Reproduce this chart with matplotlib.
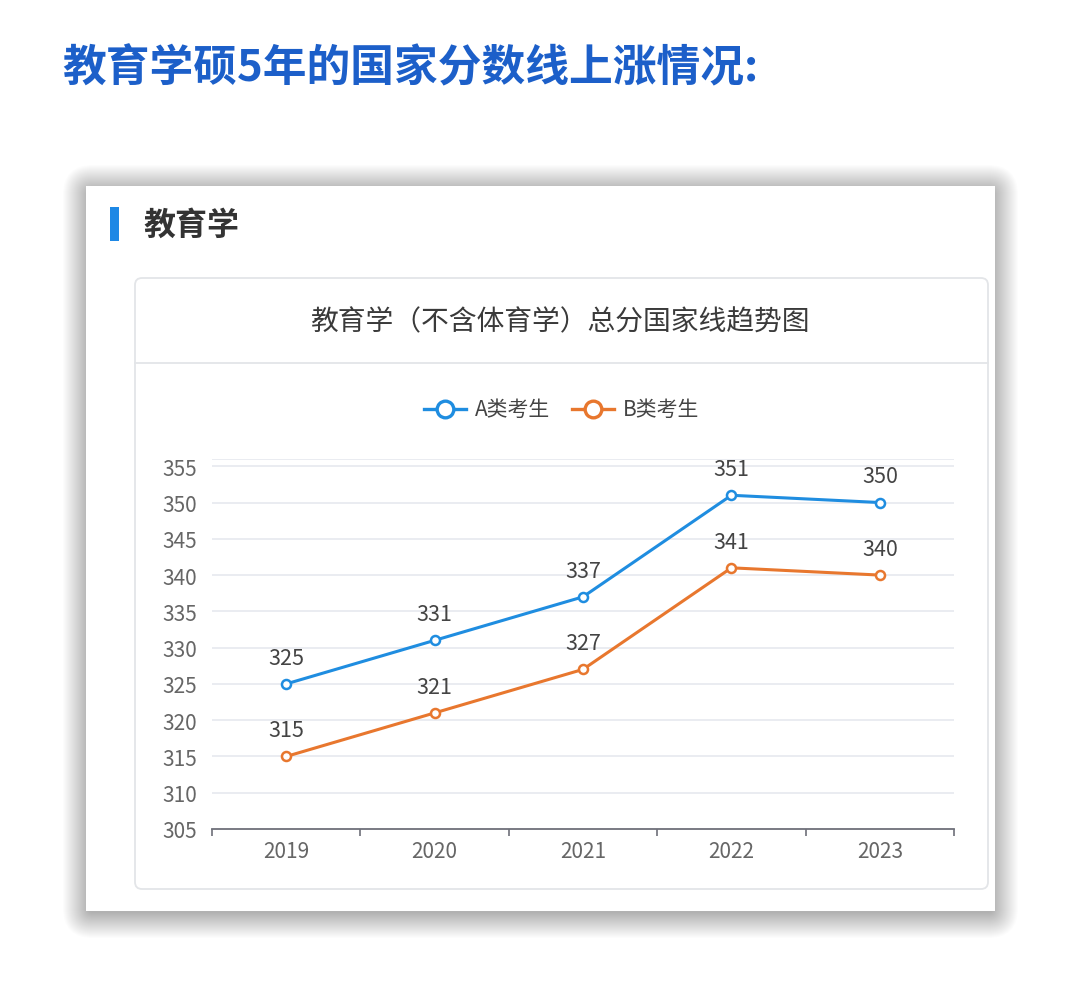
import matplotlib
matplotlib.use("Agg")
import matplotlib.pyplot as plt
from matplotlib.patches import Rectangle, FancyBboxPatch
from matplotlib.lines import Line2D

plt.rcParams['font.family'] = ['Noto Sans CJK SC', 'DejaVu Sans']

# ---- data ----
years = ["2019", "2020", "2021", "2022", "2023"]
series_a = [325, 331, 337, 351, 350]
series_b = [315, 321, 327, 341, 340]
name_a = "A类考生"
name_b = "B类考生"
y_ticks = [305, 310, 315, 320, 325, 330, 335, 340, 345, 350, 355]
page_title = "教育学硕5年的国家分数线上涨情况:"
section_title = "教育学"
chart_title = "教育学（不含体育学）总分国家线趋势图"

W, H = 1080, 995
BLUE = "#1f8de0"
ORANGE = "#e8772e"

fig = plt.figure(figsize=(W / 100, H / 100), dpi=100)
fig.patch.set_facecolor("white")

# background / decoration axes in pixel coordinates
bg = fig.add_axes([0, 0, 1, 1], zorder=0)
bg.set_xlim(0, W)
bg.set_ylim(H, 0)
bg.axis("off")

# page title
bg.text(62, 68, page_title, fontsize=31.5, fontweight="bold", color="#1c5fc9",
        ha="left", va="center")

# card shadow (soft)
cx0, cy0, cx1, cy1 = 86, 187, 995, 912
n = 26
for i in range(n, 0, -1):
    bg.add_patch(FancyBboxPatch((cx0 - i + 3, cy0 - i + 5), (cx1 - cx0) + 2 * i - 6,
                                (cy1 - cy0) + 2 * i - 4,
                                boxstyle="round,pad=0,rounding_size=%d" % (i + 4),
                                facecolor="black", edgecolor="none", alpha=0.013))
bg.add_patch(Rectangle((cx0, cy0), cx1 - cx0, cy1 - cy0, facecolor="white",
                       edgecolor="none"))

# section header
bg.add_patch(Rectangle((110, 208), 9, 34, facecolor="#1e88e5", edgecolor="none"))
bg.text(143, 226, section_title, fontsize=23, fontweight="bold", color="#333333",
        ha="left", va="center")

# inner chart box
bx0, by0, bx1, by1 = 135, 279, 988, 890
bg.add_patch(FancyBboxPatch((bx0, by0), bx1 - bx0, by1 - by0,
                            boxstyle="round,pad=0,rounding_size=7",
                            facecolor="white", edgecolor="#e3e5e8", linewidth=1.3))
bg.plot([bx0, bx1], [364, 364], color="#e3e5e8", lw=1.3)
bg.text(560, 322, chart_title, fontsize=20, color="#3a3a3a",
        ha="center", va="center")

# legend (manual, echarts style)
for x0, col, name in [(424, BLUE, name_a), (572, ORANGE, name_b)]:
    bg.add_line(Line2D([x0, x0 + 42], [410, 410], color=col, lw=2.4))
    bg.plot([x0 + 21], [410], marker="o", ms=12, mfc="white", mec=col, mew=2.4)
    bg.text(x0 + 51, 410, name, fontsize=15, color="#444444", ha="left", va="center")

# ---- chart axes ----
ax_l, ax_r, ax_t, ax_b = 212, 954, 460, 830
ax = fig.add_axes([ax_l / W, 1 - ax_b / H, (ax_r - ax_l) / W, (ax_b - ax_t) / H], zorder=1)
ax.patch.set_alpha(0)
x = list(range(len(years)))
ax.set_xlim(-0.5, len(years) - 0.5)
ax.set_ylim(305, 356)

for yv in y_ticks[1:]:
    ax.axhline(yv, color="#e6e9ef", lw=1.2, zorder=0)
ax.axhline(356, color="#e6e9ef", lw=1.2, zorder=0)

for s, col in [(series_a, BLUE), (series_b, ORANGE)]:
    ax.plot(x, s, color=col, lw=2.2, marker="o", ms=6.5, mfc="white", mec=col,
            mew=1.8, zorder=3, clip_on=False)
    for xi, v in zip(x, s):
        ax.annotate(str(v), (xi, v), xytext=(0, 11), textcoords="offset points",
                    ha="center", va="bottom", fontsize=15.5, color="#444444")

for sp in ["top", "right", "left"]:
    ax.spines[sp].set_visible(False)
ax.spines["bottom"].set_color("#6e7079")
ax.spines["bottom"].set_linewidth(1.3)

ax.set_yticks(y_ticks)
ax.set_yticklabels([str(v) for v in y_ticks])
ax.tick_params(axis="y", length=0, pad=11, labelsize=15, labelcolor="#666666")
ax.set_xticks(x)
ax.set_xticklabels(years)
ax.tick_params(axis="x", which="major", length=0, pad=8, labelsize=15,
               labelcolor="#666666")
ax.set_xticks([i - 0.5 for i in range(len(years) + 1)], minor=True)
ax.tick_params(axis="x", which="minor", length=5, width=1.2, color="#6e7079",
               direction="out")

fig.savefig("out.png", dpi=100, facecolor="white")
